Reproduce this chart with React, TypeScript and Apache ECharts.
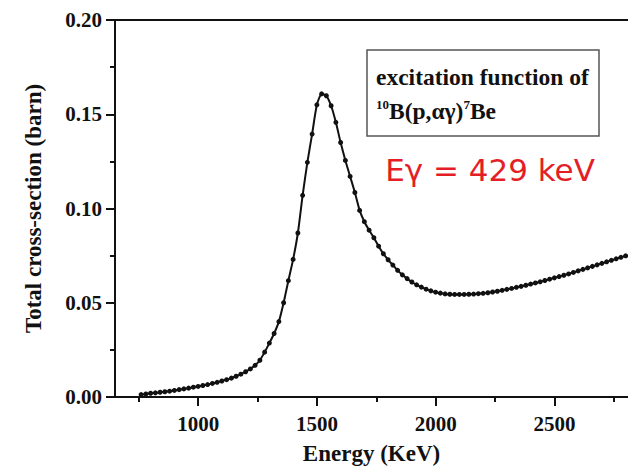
import React, { useEffect, useRef } from "react";
import * as echarts from "echarts";

const energies: number[] = [
  760, 780, 800, 820, 840, 860, 880, 900, 920, 940, 960, 980, 1000, 1020, 1040, 1060, 1080, 1100, 1120, 1140,
  1160, 1180, 1200, 1220, 1240, 1260, 1280, 1300, 1320, 1340, 1360, 1380, 1400, 1420, 1440, 1460, 1480, 1500,
  1520, 1540, 1560, 1580, 1600, 1620, 1640, 1660, 1680, 1700, 1720, 1740, 1760, 1780, 1800, 1820, 1840, 1860,
  1880, 1900, 1920, 1940, 1960, 1980, 2000, 2020, 2040, 2060, 2080, 2100, 2120, 2140, 2160, 2180, 2200, 2220,
  2240, 2260, 2280, 2300, 2320, 2340, 2360, 2380, 2400, 2420, 2440, 2460, 2480, 2500, 2520, 2540, 2560, 2580,
  2600, 2620, 2640, 2660, 2680, 2700, 2720, 2740, 2760, 2780, 2800,
];

const crossSection: number[] = [
  0.0013, 0.0016, 0.002, 0.0022, 0.0025, 0.0028, 0.0031, 0.0035, 0.0039, 0.0043, 0.0047, 0.0052, 0.0056, 0.0061,
  0.0066, 0.0072, 0.0078, 0.0085, 0.0092, 0.01, 0.011, 0.0121, 0.0134, 0.0149, 0.0168, 0.0195, 0.0238, 0.0286,
  0.0337, 0.0400, 0.05, 0.0617, 0.073, 0.087, 0.107, 0.1245, 0.1395, 0.155, 0.1608, 0.1598, 0.1545, 0.1457,
  0.135, 0.1255, 0.117, 0.1085, 0.099, 0.093, 0.0885, 0.0845, 0.08, 0.076, 0.0728, 0.07, 0.0672, 0.0648, 0.0628,
  0.061, 0.0595, 0.0583, 0.0572, 0.0563, 0.0556, 0.0551, 0.0547, 0.0545, 0.0544, 0.0544, 0.0544, 0.0545, 0.0546,
  0.0548, 0.055, 0.0553, 0.0557, 0.0561, 0.0566, 0.0571, 0.0576, 0.0582, 0.0587, 0.0593, 0.0599, 0.0605, 0.0611,
  0.0618, 0.0625, 0.0632, 0.0639, 0.0646, 0.0653, 0.0661, 0.0669, 0.0677, 0.0685, 0.0693, 0.0701, 0.0709,
  0.0717, 0.0725, 0.0733, 0.0741, 0.0749,
];

const xMajorTicks: number[] = [1000, 1500, 2000, 2500];
const xMinorTicks: number[] = [750, 1250, 1750, 2250, 2750];

const xTitle = "Energy (KeV)";
const yTitle = "Total cross-section (barn)";
const boxLine1 = "excitation function of";
const redLabel = "Eγ = 429 keV";

const SERIF = "'Liberation Serif', 'Times New Roman', serif";

export default function App() {
  const ref = useRef<HTMLDivElement>(null);

  useEffect(() => {
    if (!ref.current) return;
    const chart = echarts.init(ref.current, undefined, { renderer: "svg" });
    const xMin = 650;
    const xMax = 2810;
    const baseX = {
      type: "value",
      min: xMin,
      max: xMax,
      splitLine: { show: false },
    };
    chart.setOption({
      animation: false,
      backgroundColor: "#ffffff",
      grid: { left: 115, top: 20, right: 0, bottom: 68 },
      xAxis: [
        {
          ...baseX,
          position: "bottom",
          name: xTitle,
          nameLocation: "middle",
          nameGap: 45,
          nameTextStyle: { fontFamily: SERIF, fontWeight: "bold", fontSize: 23, color: "#111" },
          axisLine: { show: true, onZero: false, lineStyle: { color: "#111", width: 2 } },
          axisTick: { show: true, customValues: xMajorTicks, length: 9, lineStyle: { color: "#111", width: 2 } },
          axisLabel: {
            customValues: xMajorTicks,
            margin: 16,
            fontFamily: SERIF,
            fontWeight: "bold",
            fontSize: 21,
            color: "#111",
            formatter: (v: number) => String(v),
          },
        },
        {
          ...baseX,
          position: "bottom",
          axisLine: { show: false },
          axisTick: { show: true, customValues: xMinorTicks, length: 5, lineStyle: { color: "#111", width: 2 } },
          axisLabel: { show: false },
        },
        {
          ...baseX,
          position: "top",
          axisLine: { show: true, onZero: false, lineStyle: { color: "#111", width: 2 } },
          axisTick: { show: false },
          axisLabel: { show: false },
        },
      ],
      yAxis: {
        type: "value",
        min: 0,
        max: 0.2,
        interval: 0.05,
        name: yTitle,
        nameLocation: "middle",
        nameGap: 70,
        nameTextStyle: { fontFamily: SERIF, fontWeight: "bold", fontSize: 23, color: "#111" },
        splitLine: { show: false },
        axisLine: { show: true, onZero: false, lineStyle: { color: "#111", width: 2 } },
        axisTick: { show: true, length: 9, lineStyle: { color: "#111", width: 2 } },
        minorTick: { show: true, splitNumber: 2, length: 5, lineStyle: { color: "#111", width: 2 } },
        axisLabel: {
          margin: 13,
          fontFamily: SERIF,
          fontWeight: "bold",
          fontSize: 21,
          color: "#111",
          formatter: (v: number) => v.toFixed(2),
        },
      },
      series: [
        {
          type: "line",
          xAxisIndex: 0,
          data: energies.map((e, i) => [e, crossSection[i]]),
          symbol: "circle",
          symbolSize: 5,
          showSymbol: true,
          smooth: 0.2,
          itemStyle: { color: "#111" },
          lineStyle: { color: "#111", width: 2 },
          clip: true,
        },
      ],
      graphic: [
        {
          type: "rect",
          shape: { x: 367, y: 50, width: 232, height: 86 },
          style: { fill: "#fff", stroke: "#555", lineWidth: 1.5 },
          z: 10,
        },
        {
          type: "text",
          x: 376,
          y: 77,
          style: {
            text: boxLine1,
            font: `bold 23.5px ${SERIF}`,
            fill: "#111",
            verticalAlign: "middle",
          },
          z: 11,
        },
        {
          type: "text",
          x: 376,
          y: 111,
          style: {
            text: "{s|10}{m|B(p,αγ)}{s|7}{m|Be}",
            verticalAlign: "middle",
            rich: {
              m: { font: `bold 23.5px ${SERIF}`, fill: "#111", lineHeight: 26 },
              s: { font: `bold 13px ${SERIF}`, fill: "#111", lineHeight: 26, verticalAlign: "top", padding: [0, 0, 12, 0] },
            },
          },
          z: 11,
        },
        {
          type: "text",
          x: 490,
          y: 170,
          style: {
            text: redLabel,
            font: `31px 'DejaVu Sans', 'Noto Sans', sans-serif`,
            fill: "#e41e26",
            align: "center",
            verticalAlign: "middle",
          },
          z: 11,
        },
      ],
    });
    return () => chart.dispose();
  }, []);

  return (
    <div
      ref={ref}
      style={{ position: "fixed", left: 0, top: 0, width: 628, height: 470 }}
    />
  );
}
